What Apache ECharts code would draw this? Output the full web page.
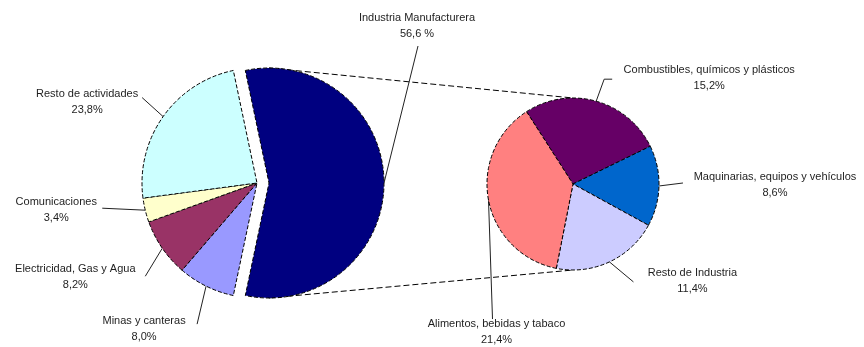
<!DOCTYPE html>
<html>
<head>
<meta charset="utf-8">
<script src="https://cdn.jsdelivr.net/npm/echarts@6/dist/echarts.min.js"></script>
<style>
  html, body { margin: 0; padding: 0; background: #fff; }
  #chart { width: 864px; height: 347px; }
</style>
</head>
<body>
<div id="chart"></div>
<script>
// Share of each sector (%)
const sectorNames = [
  'Industria Manufacturera',
  'Minas y canteras',
  'Electricidad, Gas y Agua',
  'Comunicaciones',
  'Resto de actividades'
];
const sectorValues = [56.6, 8.0, 8.2, 3.4, 23.8];

// Breakdown of Industria Manufacturera (% of the total)
const industryNames = [
  'Combustibles, químicos y plásticos',
  'Maquinarias, equipos y vehículos',
  'Resto de Industria',
  'Alimentos, bebidas y tabaco'
];
const industryValues = [15.2, 8.6, 11.4, 21.4];

// Index of the sector that is broken down in the secondary pie
const SPLIT = 0;

// Styling
const sectorColors = ['#000080', '#9999FF', '#993366', '#FFFFCC', '#CCFFFF'];
const industryColors = ['#660066', '#0066CC', '#CCCCFF', '#FF8080'];
const FONT = '"Liberation Sans", Arial, sans-serif';

// Geometry of both pies (px)
const sum = a => a.reduce((s, v) => s + v, 0);
const MAIN = { cx: 257, cy: 183, r: 115, explode: 12 };
// the split slice is centred on the right-hand side
MAIN.startAngle = sectorValues[SPLIT] / sum(sectorValues) * 180;
const SUB = { cx: 573, cy: 184, r: 86, startAngle: 122.7 };

// Label placement: centre offset and leader points, relative to the slice's outer mid-point
const mainLabelLayout = [
  { c: [33, -157], p: [[34, -137]] },
  { c: [-62, 43],  p: [[-9, 38]] },
  { c: [-87, 29],  p: [[-17, 28]] },
  { c: [-89, 0],   p: [[-43, -2]] },
  { c: [-76, -15], p: [[-21, -19]] }
];
const subLabelLayout = [
  { c: [113, -23], p: [[8, -22], [16, -22]] },
  { c: [116, -1],  p: [[24, -3]] },
  { c: [83, 19],   p: [[24, 20]] },
  { c: [8, 132],   p: [[4, 119]] }
];

function midAngles(values, start) {
  const total = sum(values);
  let acc = start;
  return values.map(v => {
    const span = v / total * 360;
    const mid = acc - span / 2;
    acc -= span;
    return mid;
  });
}

const mainMids = midAngles(sectorValues, MAIN.startAngle);
const subMids = midAngles(industryValues, SUB.startAngle);

// Centre of the exploded slice
const splitRad = mainMids[SPLIT] * Math.PI / 180;
const SPLIT_GEOM = {
  cx: MAIN.cx + MAIN.explode * Math.cos(splitRad),
  cy: MAIN.cy - MAIN.explode * Math.sin(splitRad),
  r: MAIN.r
};

function outerPoint(geom, angleDeg) {
  const a = angleDeg * Math.PI / 180;
  return [geom.cx + geom.r * Math.cos(a), geom.cy - geom.r * Math.sin(a)];
}

function pct(v, spaced) {
  return v.toFixed(1).replace('.', ',') + (spaced ? ' %' : '%');
}

function makeLayout(geom, mids, layouts) {
  return function (params) {
    const i = params.dataIndex;
    const anc = outerPoint(geom, mids[i]);
    const L = layouts[i];
    const pts = [anc].concat(L.p.map(o => [anc[0] + o[0], anc[1] + o[1]]));
    return {
      x: anc[0] + L.c[0],
      y: anc[1] + L.c[1],
      align: 'center',
      verticalAlign: 'middle',
      labelLinePoints: pts
    };
  };
}

const labelStyle = {
  show: true,
  position: 'outside',
  color: '#1e1e1e',
  fontFamily: FONT,
  fontSize: 11,
  lineHeight: 16
};
const lineStyle = { show: true, smooth: false, lineStyle: { color: '#222', width: 1 } };
const sliceBorder = { borderColor: '#000', borderWidth: 1, borderType: [4, 2] };
const hiddenItem = {
  itemStyle: { color: 'rgba(0,0,0,0)', borderWidth: 0 },
  label: { show: false },
  labelLine: { show: false }
};

// Main pie data; `visible` picks which slices a series paints
function sectorData(visible) {
  return sectorNames.map((n, i) => Object.assign(
    { name: n, value: sectorValues[i] },
    visible(i) ? { itemStyle: { color: sectorColors[i] } } : hiddenItem
  ));
}

// Connector lines from the split slice to the secondary pie
const topFrom = [SPLIT_GEOM.cx, SPLIT_GEOM.cy - SPLIT_GEOM.r];
const botFrom = [SPLIT_GEOM.cx, SPLIT_GEOM.cy + SPLIT_GEOM.r];
const topTo = [SUB.cx, SUB.cy - SUB.r];
const botTo = [SUB.cx, SUB.cy + SUB.r];
const connectorStyle = { stroke: '#000', lineWidth: 1, lineDash: [6, 3] };

const commonPie = {
  type: 'pie',
  clockwise: true,
  avoidLabelOverlap: false,
  silent: true,
  emphasis: { disabled: true },
  itemStyle: sliceBorder,
  labelLine: lineStyle
};

const chart = echarts.init(document.getElementById('chart'), null, { renderer: 'canvas' });
chart.setOption({
  animation: false,
  backgroundColor: '#fff',
  graphic: [
    { type: 'line', shape: { x1: topFrom[0], y1: topFrom[1], x2: topTo[0], y2: topTo[1] }, style: connectorStyle, silent: true },
    { type: 'line', shape: { x1: botFrom[0], y1: botFrom[1], x2: botTo[0], y2: botTo[1] }, style: connectorStyle, silent: true }
  ],
  series: [
    // remaining sectors
    Object.assign({}, commonPie, {
      center: [MAIN.cx, MAIN.cy],
      radius: MAIN.r,
      startAngle: MAIN.startAngle,
      label: Object.assign({}, labelStyle, {
        formatter: p => p.name + '\n' + pct(p.value, false)
      }),
      labelLayout: makeLayout(MAIN, mainMids, mainLabelLayout),
      data: sectorData(i => i !== SPLIT)
    }),
    // exploded slice (Industria Manufacturera)
    Object.assign({}, commonPie, {
      center: [SPLIT_GEOM.cx, SPLIT_GEOM.cy],
      radius: MAIN.r,
      startAngle: MAIN.startAngle,
      label: Object.assign({}, labelStyle, {
        formatter: p => p.name + '\n' + pct(p.value, true)
      }),
      labelLayout: makeLayout(SPLIT_GEOM, mainMids, mainLabelLayout),
      data: sectorData(i => i === SPLIT)
    }),
    // secondary pie
    Object.assign({}, commonPie, {
      center: [SUB.cx, SUB.cy],
      radius: SUB.r,
      startAngle: SUB.startAngle,
      label: Object.assign({}, labelStyle, {
        formatter: p => p.name + '\n' + pct(p.value, false)
      }),
      labelLayout: makeLayout(SUB, subMids, subLabelLayout),
      data: industryNames.map((n, i) => ({
        name: n,
        value: industryValues[i],
        itemStyle: { color: industryColors[i] }
      }))
    })
  ]
});
</script>
</body>
</html>
